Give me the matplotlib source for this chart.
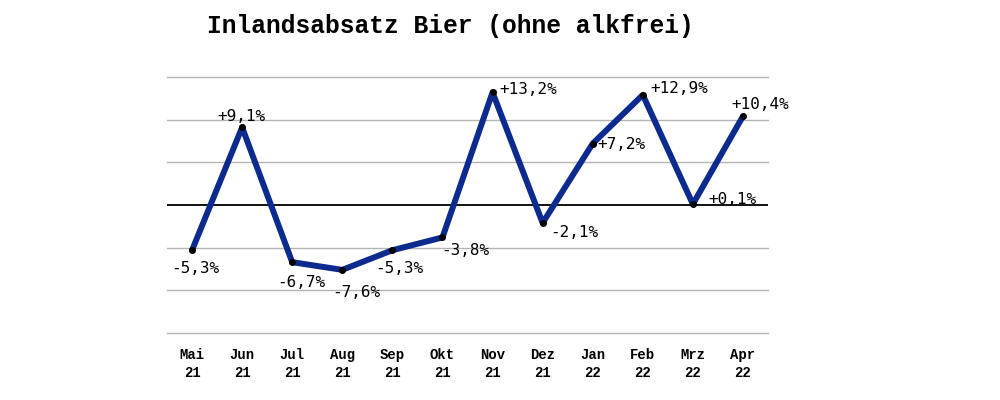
import matplotlib
matplotlib.use('Agg')
import matplotlib.pyplot as plt

# --- Daten ---------------------------------------------------------------
monate = ['Mai\n21', 'Jun\n21', 'Jul\n21', 'Aug\n21', 'Sep\n21', 'Okt\n21',
          'Nov\n21', 'Dez\n21', 'Jan\n22', 'Feb\n22', 'Mrz\n22', 'Apr\n22']
werte = [-5.3, 9.1, -6.7, -7.6, -5.3, -3.8, 13.2, -2.1, 7.2, 12.9, 0.1, 10.4]

# Label-Versatz in Pixeln (dx, dy) je Punkt
label_offsets = [(3, -18), (-1, 11), (9, -20), (14, -23), (7, -18), (23, -13),
                 (36, 3), (32, -10), (29, -1), (36, 6), (40, 5), (17, 12)]

fig = plt.figure(figsize=(10, 4), dpi=100)
ax = fig.add_axes([0.167, 0.1675, 0.601, 0.64])

x = list(range(len(werte)))
ax.set_xlim(-0.5, len(werte) - 0.5)
ax.set_ylim(-15, 15)

for g in [-15, -10, -5, 5, 10, 15]:
    ax.axhline(g, color='#b4b4b4', lw=1.0, zorder=1, clip_on=False)
ax.axhline(0, color='black', lw=1.3, zorder=2)

ax.plot(x, werte, color='#0d2a8e', lw=4.3, solid_joinstyle='round',
        solid_capstyle='round', zorder=3)
ax.plot(x, werte, 'o', color='black', ms=4, zorder=4)

for xi, v, (dx, dy) in zip(x, werte, label_offsets):
    txt = f'{v:+.1f}%'.replace('.', ',')
    ax.annotate(txt, (xi, v), xytext=(dx, dy), textcoords='offset pixels',
                ha='center', va='center', fontsize=11.5,
                family='DejaVu Sans Mono', zorder=5)

ax.set_xticks(x)
ax.set_xticklabels(monate, family='Liberation Mono', fontweight='bold',
                   fontsize=10, linespacing=1.3)
ax.tick_params(axis='x', length=0, pad=11)
ax.set_yticks([])
for s in ax.spines.values():
    s.set_visible(False)

fig.text(0.45, 0.935, 'Inlandsabsatz Bier (ohne alkfrei)', ha='center',
         va='center', family='Liberation Mono', fontweight='bold', fontsize=17.7)

fig.savefig('out.png', dpi=100, facecolor='white')
